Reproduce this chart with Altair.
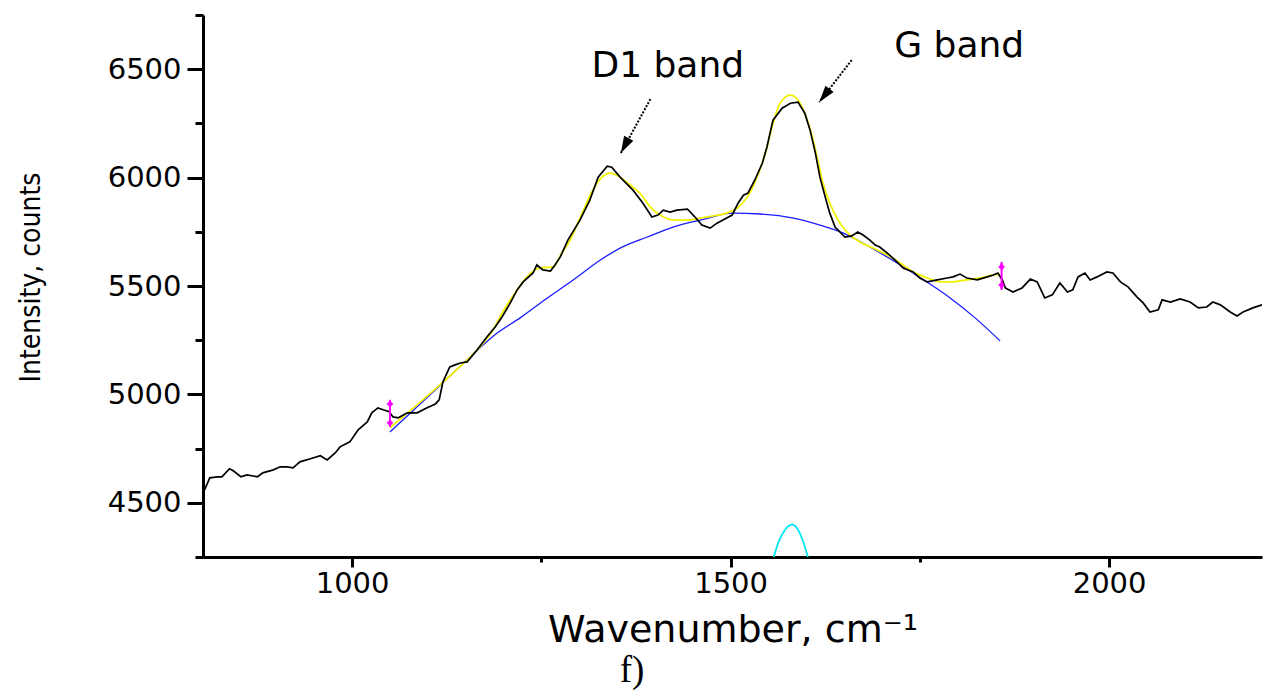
import altair as alt
import pandas as pd

# Raman spectrum (wavenumber, cm-1 / intensity, counts)
spec_wn = [805, 812, 822, 828, 838, 843, 853, 861, 875, 882, 896, 905, 914, 922, 931, 945,
           958, 967, 978, 984, 997, 1008, 1020, 1026, 1034, 1041, 1049, 1054, 1061, 1073,
           1086, 1099, 1110, 1115, 1120, 1129, 1136, 1143, 1152, 1165, 1178, 1189, 1198,
           1209, 1218, 1226, 1239, 1244, 1252, 1262, 1268, 1275, 1285, 1301, 1314, 1325,
           1337, 1343, 1354, 1371, 1384, 1396, 1404, 1411, 1420, 1429, 1443, 1453, 1462,
           1473, 1482, 1490, 1502, 1510, 1517, 1523, 1532, 1542, 1548, 1556, 1568, 1579,
           1589, 1598, 1605, 1612, 1618, 1625, 1631, 1638, 1651, 1660, 1668, 1675, 1684,
           1691, 1697, 1707, 1717, 1728, 1741, 1750, 1760, 1773, 1786, 1794, 1803, 1812,
           1826, 1839, 1847, 1853, 1859, 1863, 1873, 1885, 1896, 1905, 1915, 1925, 1935,
           1945, 1952, 1959, 1968, 1975, 1984, 1997, 2005, 2015, 2025, 2037, 2045, 2054,
           2065, 2070, 2081, 2094, 2107, 2118, 2129, 2137, 2147, 2160, 2169, 2177, 2190, 2202]
spec_int = [4560, 4615, 4620, 4620, 4657, 4648, 4620, 4629, 4620, 4638, 4652, 4666, 4666, 4661,
            4689, 4703, 4717, 4698, 4731, 4758, 4781, 4837, 4873, 4915, 4938, 4929, 4920, 4896,
            4892, 4915, 4915, 4938, 4956, 4975, 5058, 5127, 5136, 5145, 5150, 5205, 5265, 5311,
            5357, 5422, 5482, 5519, 5560, 5597, 5574, 5569, 5597, 5634, 5712, 5804, 5896, 6002,
            6053, 6048, 6002, 5942, 5883, 5818, 5827, 5850, 5841, 5850, 5855, 5818, 5781, 5767,
            5790, 5804, 5827, 5883, 5919, 5929, 5989, 6067, 6141, 6265, 6320, 6343, 6348, 6297,
            6219, 6113, 6002, 5910, 5836, 5772, 5726, 5731, 5749, 5735, 5712, 5689, 5680, 5652,
            5620, 5583, 5565, 5537, 5519, 5528, 5537, 5542, 5555, 5537, 5528, 5542, 5551, 5560,
            5528, 5491, 5472, 5491, 5532, 5519, 5445, 5459, 5514, 5472, 5482, 5542, 5560, 5528,
            5542, 5565, 5560, 5519, 5496, 5449, 5422, 5380, 5390, 5436, 5426, 5440, 5426, 5399,
            5403, 5426, 5413, 5380, 5362, 5380, 5399, 5413]

# Cumulative fit (baseline + D1 + G)
fit_wn = [1050, 1116, 1152, 1169, 1186, 1199, 1218, 1231, 1248, 1266, 1277, 1288, 1301, 1318,
          1330, 1341, 1354, 1367, 1380, 1394, 1407, 1424, 1443, 1460, 1477, 1495, 1509, 1522,
          1535, 1546, 1556, 1565, 1579, 1589, 1598, 1608, 1616, 1622, 1631, 1642, 1655, 1671,
          1688, 1707, 1724, 1741, 1760, 1777, 1794, 1812, 1830, 1847, 1856]
fit_int = [4846, 5044, 5159, 5219, 5297, 5380, 5482, 5542, 5583, 5588, 5652, 5712, 5813, 5942,
           6002, 6021, 6002, 5966, 5929, 5864, 5827, 5804, 5804, 5813, 5823, 5836, 5860, 5910,
           6002, 6113, 6250, 6340, 6380, 6357, 6297, 6187, 6067, 5975, 5883, 5804, 5744, 5703,
           5675, 5643, 5606, 5565, 5537, 5519, 5519, 5528, 5537, 5551, 5555]

# Polynomial background
base_wn = [1050, 1103, 1156, 1192, 1222, 1258, 1292, 1328, 1354, 1390, 1424, 1460, 1503, 1539,
           1583, 1618, 1649, 1684, 1720, 1755, 1790, 1823, 1856]
base_int = [4827, 4998, 5173, 5284, 5353, 5445, 5528, 5620, 5675, 5726, 5772, 5804, 5836, 5832,
            5813, 5781, 5744, 5680, 5606, 5528, 5445, 5353, 5247]

# G component peak (top of it above the axis floor)
gpeak_wn = [1557, 1563, 1572, 1581, 1589, 1596, 1602]
gpeak_int = [4250, 4316, 4376, 4399, 4376, 4320, 4250]

# Fit range limits
limit_wn = [1050, 1858]
limit_top = [4975, 5611]
limit_bot = [4850, 5482]
limit_hi = [4956, 5588]
limit_lo = [4869, 5505]

# Band annotations
band_label = ["D1 band", "G band"]
band_label_wn = [1417, 1802]
band_label_int = [6463, 6555]
arrow_wn0 = [1394, 1660]
arrow_int0 = [6362, 6542]
arrow_wn1 = [1355, 1617]
arrow_int1 = [6113, 6348]
arrow_angle = [208, 218]

X_SCALE = alt.Scale(domain=[803, 2202], nice=False, zero=False)
Y_SCALE = alt.Scale(domain=[4250, 6750], nice=False, zero=False)

TEXT_FONT = "DejaVu Sans"

x_axis = alt.Axis(
    values=[1000, 1250, 1500, 1750, 2000],
    format="d",
    labelExpr="datum.value % 500 === 0 ? datum.label : ''",
    tickSize={"condition": {"test": "datum.value % 500 === 0", "value": 10}, "value": 5},
    tickWidth=3, tickColor="black",
    domainWidth=3, domainColor="black",
    labelFont=TEXT_FONT, labelFontSize=29, labelColor="black",
    labelPadding=2, labelFlush=False, labelOverlap=False,
    grid=False,
    title="Wavenumber, cm\u207b\u00b9",
    titleFont=TEXT_FONT, titleFontSize=38, titleFontWeight="normal", titleColor="black",
    titleX=529.5, titleY=84, titleAlign="center", titleBaseline="alphabetic",
)

y_axis = alt.Axis(
    values=[4250, 4500, 4750, 5000, 5250, 5500, 5750, 6000, 6250, 6500, 6750],
    format="d",
    labelExpr="datum.value % 500 === 0 ? datum.label : ''",
    tickSize={"condition": {"test": "datum.value % 500 === 0", "value": 16}, "value": 8},
    tickWidth=3, tickColor="black",
    domainWidth=3, domainColor="black",
    labelFont=TEXT_FONT, labelFontSize=29, labelColor="black",
    labelPadding=6, labelFlush=False, labelOverlap=False,
    grid=False,
    title="Intensity, counts",
    titleFont="DejaVu Sans Condensed, Liberation Sans",
    titleFontSize=28, titleFontWeight="normal", titleColor="black",
    titleAngle=270, titleX=-172, titleY=262, titleAlign="center", titleBaseline="middle",
)


def xenc(field="wn"):
    return alt.X(f"{field}:Q", scale=X_SCALE, axis=x_axis)


def yenc(field="inten"):
    return alt.Y(f"{field}:Q", scale=Y_SCALE, axis=y_axis)


spec_df = pd.DataFrame({"wn": spec_wn, "inten": spec_int})
fit_df = pd.DataFrame({"wn": fit_wn, "inten": fit_int})
base_df = pd.DataFrame({"wn": base_wn, "inten": base_int})
gpeak_df = pd.DataFrame({"wn": gpeak_wn, "inten": gpeak_int})
limit_df = pd.DataFrame({"wn": limit_wn, "inten": limit_top, "inten_end": limit_bot})
limit_pts = pd.DataFrame({"wn": limit_wn + limit_wn, "inten": limit_hi + limit_lo})
limit_caps = pd.DataFrame({"wn": limit_wn + limit_wn,
                           "inten": limit_top + limit_bot,
                           "ang": [0, 0, 180, 180]})
arrow_df = pd.DataFrame({"wn": arrow_wn0, "inten": arrow_int0,
                         "wn_end": arrow_wn1, "inten_end": arrow_int1})
head_df = pd.DataFrame({"wn": arrow_wn1, "inten": arrow_int1, "ang": arrow_angle})
label_df = pd.DataFrame({"wn": band_label_wn, "inten": band_label_int, "label": band_label})

base_line = alt.Chart(base_df).mark_line(color="#1a1aff", strokeWidth=1.3, interpolate="monotone").encode(
    x=xenc(), y=yenc())
fit_line = alt.Chart(fit_df).mark_line(color="#f2f200", strokeWidth=1.8, interpolate="monotone").encode(
    x=xenc(), y=yenc())
spec_line = alt.Chart(spec_df).mark_line(color="black", strokeWidth=1.7, clip=True).encode(
    x=xenc(), y=yenc())
gpeak_line = alt.Chart(gpeak_df).mark_line(color="#00e8f0", strokeWidth=1.8, interpolate="monotone",
                                           clip=True).encode(x=xenc(), y=yenc())

limit_rule = alt.Chart(limit_df).mark_rule(color="#ff00ff", strokeWidth=2).encode(
    x=xenc(), y=yenc(), y2=alt.Y2("inten_end:Q"))
limit_mark = alt.Chart(limit_pts).mark_point(shape="diamond", filled=True, color="#ff00ff",
                                             size=45, opacity=1).encode(x=xenc(), y=yenc())
limit_cap = alt.Chart(limit_caps).mark_point(shape="M0,0 L0.8,1.6 L-0.8,1.6 Z", filled=True,
                                             color="#ff00ff", size=16, opacity=1).encode(
    x=xenc(), y=yenc(), angle=alt.Angle("ang:Q", scale=None))

arrow_line = alt.Chart(arrow_df).mark_rule(color="black", strokeWidth=2, strokeDash=[2, 1.5]).encode(
    x=xenc(), y=yenc(), x2=alt.X2("wn_end:Q"), y2=alt.Y2("inten_end:Q"))
arrow_head = alt.Chart(head_df).mark_point(shape="M0,0 L0.65,2.1 L-0.65,2.1 Z", filled=True,
                                           color="black", size=256, opacity=1, strokeWidth=0).encode(
    x=xenc(), y=yenc(), angle=alt.Angle("ang:Q", scale=None))
band_text = alt.Chart(label_df).mark_text(font=TEXT_FONT, fontSize=36, color="black",
                                          align="center", baseline="alphabetic").encode(
    x=xenc(), y=yenc(), text="label:N")

caption = alt.Chart(pd.DataFrame({"t": ["f)"]})).mark_text(
    font="Liberation Serif", fontSize=37, color="black", align="center", baseline="alphabetic",
    x=429, y=667).encode(text="t:N")

chart = alt.layer(
    base_line, fit_line, spec_line, gpeak_line, limit_rule, limit_mark, limit_cap,
    arrow_line, arrow_head, band_text, caption,
).properties(
    width=1059, height=542,
    autosize=alt.AutoSizeParams(type="none"),
    padding={"left": 203, "top": 15, "right": 4, "bottom": 133},
    background="white",
).configure_view(stroke=None)

chart.save("out.html", embed_options={"renderer": "svg", "actions": False})
